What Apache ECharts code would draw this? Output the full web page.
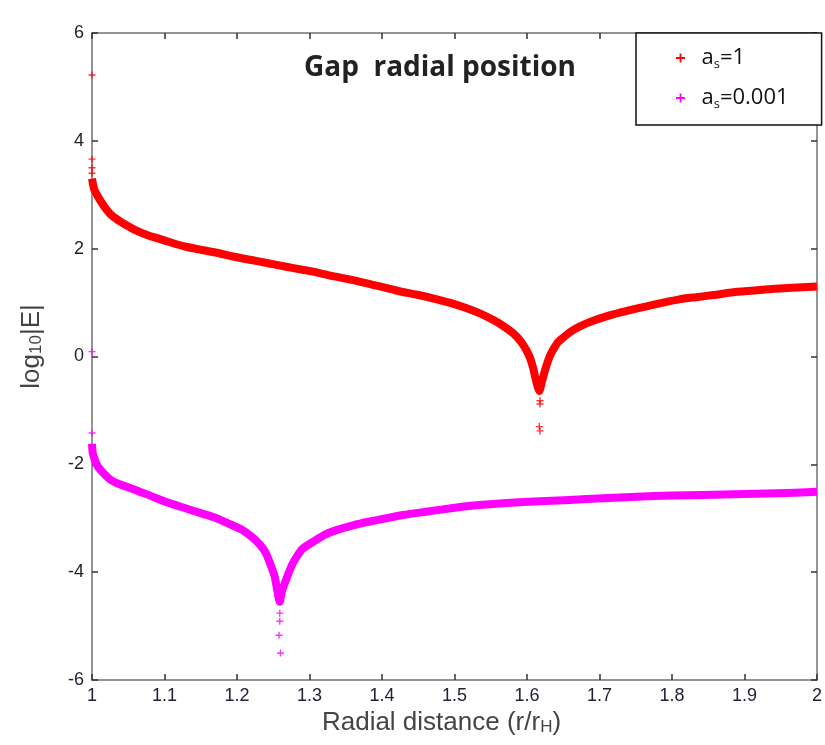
<!DOCTYPE html>
<html>
<head>
<meta charset="utf-8">
<script src="https://cdn.jsdelivr.net/npm/echarts@6/dist/echarts.min.js"></script>
<style>html,body{margin:0;padding:0;background:#fff}#c{width:825px;height:745px}</style>
</head>
<body>
<div id="c"></div>
<script>
// ---- data ----
const xTicks = ['1','1.1','1.2','1.3','1.4','1.5','1.6','1.7','1.8','1.9','2'];
const yTicks = ['-6','-4','-2','0','2','4','6'];
const seriesNames = ['as1', 'as0001'];

// a_s = 1 : main dense band
const redX = [1.000,1.003,1.008,1.017,1.026,1.036,1.047,1.059,1.075,1.091,1.110,1.128,1.150,1.174,1.196,1.220,1.243,1.266,1.290,1.303,1.332,1.355,1.378,1.400,1.424,1.447,1.470,1.493,1.516,1.535,1.553,1.568,1.581,1.592,1.599,1.604,1.608,1.612,1.617,1.621,1.625,1.629,1.633,1.638,1.643,1.649,1.660,1.673,1.695,1.719,1.742,1.765,1.788,1.810,1.833,1.857,1.890,1.925,1.960,2.000];
const redY = [3.30,3.10,2.97,2.78,2.63,2.53,2.44,2.35,2.26,2.19,2.11,2.04,1.98,1.92,1.85,1.79,1.73,1.67,1.61,1.58,1.49,1.43,1.36,1.29,1.21,1.15,1.08,1.00,0.90,0.80,0.68,0.56,0.43,0.27,0.12,-0.02,-0.19,-0.42,-0.64,-0.45,-0.25,-0.08,0.05,0.17,0.27,0.34,0.46,0.56,0.68,0.78,0.86,0.93,1.00,1.06,1.10,1.14,1.20,1.24,1.27,1.30];
// a_s = 1 : isolated points
const redIsoX = [1.000,1.000,1.000,1.000,1.618,1.618,1.617,1.618];
const redIsoY = [5.22,3.66,3.50,3.40,-0.82,-0.88,-1.30,-1.38];

// a_s = 0.001 : main dense band
const magX = [1.000,1.001,1.004,1.008,1.015,1.026,1.040,1.059,1.080,1.105,1.128,1.151,1.170,1.187,1.205,1.220,1.231,1.240,1.246,1.252,1.255,1.259,1.262,1.266,1.270,1.276,1.282,1.290,1.307,1.322,1.337,1.360,1.383,1.406,1.429,1.460,1.498,1.530,1.567,1.610,1.659,1.705,1.751,1.800,1.843,1.900,1.958,2.000];
const magY = [-1.62,-1.79,-1.92,-2.04,-2.15,-2.29,-2.38,-2.47,-2.58,-2.71,-2.81,-2.91,-2.99,-3.09,-3.20,-3.34,-3.48,-3.65,-3.85,-4.08,-4.30,-4.55,-4.35,-4.20,-4.06,-3.86,-3.72,-3.57,-3.42,-3.30,-3.22,-3.13,-3.06,-3.00,-2.94,-2.88,-2.81,-2.76,-2.72,-2.69,-2.66,-2.63,-2.60,-2.58,-2.57,-2.55,-2.53,-2.51];
// a_s = 0.001 : isolated points
const magIsoX = [1.000,1.000,1.259,1.259,1.258,1.260];
const magIsoY = [0.09,-1.42,-4.76,-4.91,-5.17,-5.50];

const zip = (xs, ys) => xs.map((x, i) => [x, ys[i]]);
const starPath = 'path://M4,0 L6,0 L6,4 L10,4 L10,6 L6,6 L6,10 L4,10 L4,6 L0,6 L0,4 L4,4 Z';
const RED = '#ff0000', MAG = '#ff00ff';

const chart = echarts.init(document.getElementById('c'));
const axisLineStyle = { color: '#707070', width: 1.5 };
const tickStyle = { color: '#333', width: 1.5 };
const labelFont = { fontFamily: 'Liberation Sans, Arial, sans-serif', fontSize: 18, color: '#222233' };
const nameRich = { sub: { fontFamily: 'Liberation Sans, Arial, sans-serif', fontSize: 17, color: '#444', verticalAlign: 'bottom' } };

chart.setOption({
  animation: false,
  backgroundColor: '#fff',
  title: {
    text: 'Gap  radial position',
    left: 435, top: 49, textAlign: 'center',
    textStyle: { fontFamily: 'Open Sans', fontWeight: 'bold', fontSize: 28, color: '#222' }
  },
  legend: {
    orient: 'vertical',
    left: 636, top: 33,
    padding: [12, 33, 14, 40],
    itemGap: 14,
    itemWidth: 32, itemHeight: 9,
    symbolKeepAspect: true,
    borderColor: '#111', borderWidth: 1.5, borderRadius: 0,
    backgroundColor: '#fff',
    data: [{ name: seriesNames[0], icon: starPath }, { name: seriesNames[1], icon: starPath }],
    formatter: function (n) { return n === seriesNames[0] ? 'a{s|s}=1' : 'a{s|s}=0.001'; },
    textStyle: {
      fontFamily: 'Open Sans', fontSize: 22, lineHeight: 26, color: '#111',
      rich: { s: { fontFamily: 'Open Sans', fontSize: 13, verticalAlign: 'bottom', color: '#111' } }
    }
  },
  grid: { left: 92, right: 8, top: 33, bottom: 65, containLabel: false },
  xAxis: [{
    type: 'value', min: 1, max: 2, interval: 0.1, position: 'bottom',
    axisLine: { show: true, onZero: false, lineStyle: axisLineStyle },
    axisTick: { show: true, inside: true, length: 6, lineStyle: tickStyle },
    splitLine: { show: false },
    axisLabel: { margin: 7, ...labelFont, formatter: v => xTicks[Math.round((v - 1) * 10)] },
    name: 'Radial distance (r/r{sub|H})',
    nameLocation: 'middle', nameGap: 25,
    nameTextStyle: { fontFamily: 'Liberation Sans, Arial, sans-serif', fontSize: 26, color: '#444',
      padding: [0, 26, 0, 0], rich: nameRich }
  }, {
    type: 'value', min: 1, max: 2, interval: 0.1, position: 'top',
    axisLine: { show: true, onZero: false, lineStyle: axisLineStyle },
    axisTick: { show: true, inside: true, length: 6, lineStyle: tickStyle },
    splitLine: { show: false }, axisLabel: { show: false }
  }],
  yAxis: [{
    type: 'value', min: -6, max: 6, interval: 2, position: 'left',
    axisLine: { show: true, onZero: false, lineStyle: axisLineStyle },
    axisTick: { show: true, inside: true, length: 6, lineStyle: tickStyle },
    splitLine: { show: false },
    axisLabel: { margin: 8, ...labelFont, formatter: v => yTicks[Math.round((v + 6) / 2)] },
    name: 'log{sub|10}|E|',
    nameLocation: 'middle', nameGap: 47, nameRotate: 90,
    nameTextStyle: { fontFamily: 'Liberation Sans, Arial, sans-serif', fontSize: 26, color: '#444',
      padding: [0, 0, 0, 20], rich: nameRich }
  }, {
    type: 'value', min: -6, max: 6, interval: 2, position: 'right',
    axisLine: { show: true, onZero: false, lineStyle: axisLineStyle },
    axisTick: { show: true, inside: true, length: 6, lineStyle: tickStyle },
    splitLine: { show: false }, axisLabel: { show: false }
  }],
  series: [
    { name: seriesNames[0], type: 'line', data: zip(redX, redY), symbol: 'none', smooth: 0.2,
      lineStyle: { color: RED, width: 8, join: 'round' }, itemStyle: { color: RED }, z: 3 },
    { name: seriesNames[1], type: 'line', data: zip(magX, magY), symbol: 'none', smooth: 0.2,
      lineStyle: { color: MAG, width: 8, join: 'round' }, itemStyle: { color: MAG }, z: 3 },
    { name: seriesNames[0], type: 'scatter', data: zip(redIsoX, redIsoY), symbol: starPath, symbolSize: 7,
      itemStyle: { color: RED }, z: 4 },
    { name: seriesNames[1], type: 'scatter', data: zip(magIsoX, magIsoY), symbol: starPath, symbolSize: 7,
      itemStyle: { color: MAG }, z: 4 }
  ]
});
</script>
</body>
</html>
